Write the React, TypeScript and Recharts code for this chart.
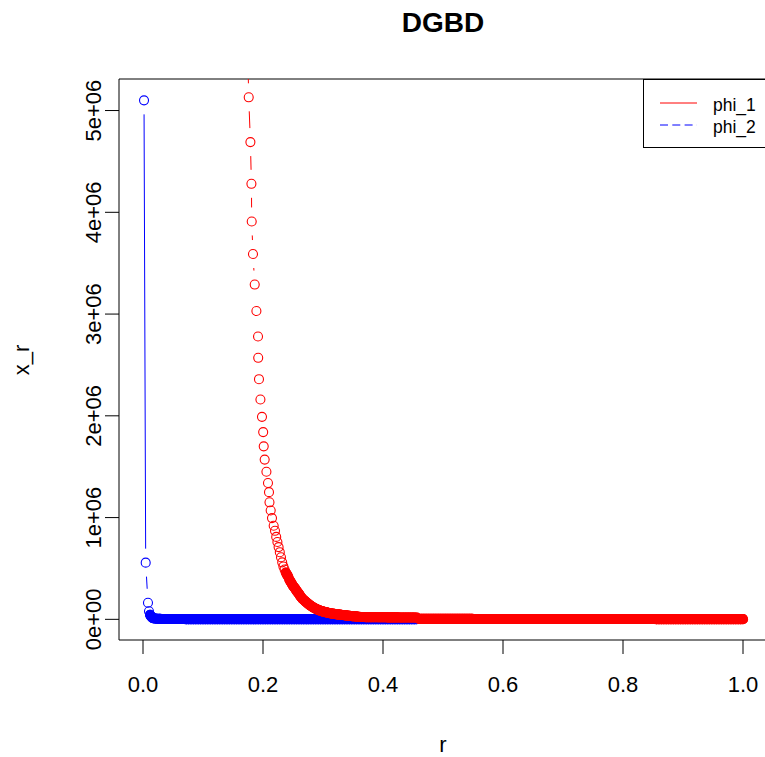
import React from "react"
import { ComposedChart, Line, XAxis, YAxis, ReferenceArea } from "recharts"

// values are in millions (y axis shows e+06 labels)
const xTicks = [0, 0.2, 0.4, 0.6, 0.8, 1.0]
const yTicks = [0, 1, 2, 3, 4, 5]

const blueHeadR = [0.0017, 0.0045, 0.0083, 0.01, 0.0117, 0.0133, 0.015, 0.0167]
const blueHeadV = [5.1, 0.557, 0.163, 0.08, 0.045, 0.03, 0.02, 0.012]

const blueTailR = [
  0.02, 0.024, 0.028, 0.032, 0.036, 0.04, 0.044, 0.048, 0.052, 0.056,
  0.06, 0.064, 0.068, 0.072, 0.076, 0.08, 0.084, 0.088, 0.092, 0.096,
  0.1, 0.104, 0.108, 0.112, 0.116, 0.12, 0.124, 0.128, 0.132, 0.136,
  0.14, 0.144, 0.148, 0.152, 0.156, 0.16, 0.164, 0.168, 0.172, 0.176,
  0.18, 0.184, 0.188, 0.192, 0.196, 0.2, 0.204, 0.208, 0.212, 0.216,
  0.22, 0.224, 0.228, 0.232, 0.236, 0.24, 0.244, 0.248, 0.252, 0.256,
  0.26, 0.264, 0.268, 0.272, 0.276, 0.28, 0.284, 0.288, 0.292, 0.296,
  0.3, 0.304, 0.308, 0.312, 0.316, 0.32, 0.324, 0.328, 0.332, 0.336,
  0.34, 0.344, 0.348, 0.352, 0.356, 0.36, 0.364, 0.368, 0.372, 0.376,
  0.38, 0.384, 0.388, 0.392, 0.396, 0.4, 0.404, 0.408, 0.412, 0.416,
  0.42, 0.424, 0.428, 0.432, 0.436, 0.44, 0.444, 0.448, 0.452, 0.456,
]
const blueTailV = [
  0.008, 0.006, 0.005, 0.004, 0.004, 0.003, 0.003, 0.003, 0.003, 0.003,
  0.003, 0.003, 0.003, 0.002, 0.002, 0.002, 0.002, 0.002, 0.002, 0.002,
  0.002, 0.002, 0.002, 0.002, 0.002, 0.002, 0.002, 0.002, 0.002, 0.002,
  0.002, 0.002, 0.002, 0.002, 0.002, 0.002, 0.002, 0.002, 0.002, 0.002,
  0.002, 0.002, 0.002, 0.002, 0.002, 0.002, 0.002, 0.002, 0.002, 0.002,
  0.002, 0.002, 0.002, 0.002, 0.002, 0.002, 0.002, 0.002, 0.002, 0.002,
  0.002, 0.002, 0.002, 0.001, 0.001, 0.001, 0.001, 0.001, 0.001, 0.001,
  0.001, 0.001, 0.001, 0.001, 0.001, 0.001, 0.001, 0.001, 0.001, 0.001,
  0.001, 0.001, 0.001, 0.001, 0.001, 0.001, 0.001, 0.001, 0.001, 0.001,
  0.001, 0.001, 0.001, 0.001, 0.001, 0.001, 0.001, 0.001, 0.001, 0.001,
  0.001, 0.001, 0.001, 0.001, 0.001, 0.001, 0.001, 0.001, 0.001, 0.001,
]

const redHeadR = [
  0.1745, 0.1762, 0.179, 0.1807, 0.1812, 0.1833, 0.1862, 0.189, 0.1917, 0.192, 0.1933, 0.1957,
  0.1983, 0.2003, 0.2012, 0.2028, 0.2057, 0.2083, 0.21, 0.2108, 0.2128, 0.215, 0.2178,
]
const redHeadV = [
  5.6, 5.13, 4.69, 4.28, 3.91, 3.59, 3.29, 3.03, 2.78, 2.57, 2.36, 2.16, 1.99, 1.84, 1.7, 1.57, 1.45,
  1.34, 1.25, 1.15, 1.07, 0.995, 0.92,
]

const redMidR = [
  0.22, 0.222, 0.224, 0.226, 0.228, 0.23, 0.232, 0.234, 0.236, 0.238,
  0.24, 0.242, 0.244, 0.246, 0.248, 0.25, 0.252, 0.254, 0.256, 0.258,
  0.26, 0.262, 0.264, 0.266, 0.268, 0.27, 0.272, 0.274, 0.276, 0.278,
  0.28, 0.282, 0.284, 0.286, 0.288, 0.29, 0.292, 0.294, 0.296, 0.298,
  0.3, 0.302, 0.304, 0.306, 0.308, 0.31, 0.312, 0.314, 0.316, 0.318,
  0.32, 0.322, 0.324, 0.326, 0.328, 0.33, 0.332, 0.334, 0.336, 0.338,
  0.34, 0.342, 0.344, 0.346, 0.348, 0.35, 0.352, 0.354, 0.356, 0.358,
]
const redMidV = [
  0.87, 0.81, 0.76, 0.71, 0.66, 0.61, 0.56, 0.52, 0.49, 0.46,
  0.44, 0.42, 0.39, 0.37, 0.35, 0.33, 0.315, 0.3, 0.28, 0.265,
  0.25, 0.23, 0.215, 0.2, 0.19, 0.18, 0.17, 0.16, 0.15, 0.14,
  0.132, 0.124, 0.117, 0.11, 0.104, 0.098, 0.093, 0.088, 0.084, 0.08,
  0.077, 0.074, 0.071, 0.068, 0.065, 0.062, 0.06, 0.058, 0.056, 0.054,
  0.052, 0.05, 0.049, 0.048, 0.046, 0.045, 0.043, 0.042, 0.04, 0.039,
  0.037, 0.036, 0.035, 0.033, 0.032, 0.031, 0.03, 0.029, 0.027, 0.026,
]

const redTailR = [
  0.36, 0.364, 0.368, 0.372, 0.376, 0.38, 0.384, 0.388, 0.392, 0.396,
  0.4, 0.404, 0.408, 0.412, 0.416, 0.42, 0.424, 0.428, 0.432, 0.436,
  0.44, 0.444, 0.448, 0.452, 0.456, 0.46, 0.464, 0.468, 0.472, 0.476,
  0.48, 0.484, 0.488, 0.492, 0.496, 0.5, 0.504, 0.508, 0.512, 0.516,
  0.52, 0.524, 0.528, 0.532, 0.536, 0.54, 0.544, 0.548, 0.552, 0.556,
  0.56, 0.564, 0.568, 0.572, 0.576, 0.58, 0.584, 0.588, 0.592, 0.596,
  0.6, 0.604, 0.608, 0.612, 0.616, 0.62, 0.624, 0.628, 0.632, 0.636,
  0.64, 0.644, 0.648, 0.652, 0.656, 0.66, 0.664, 0.668, 0.672, 0.676,
  0.68, 0.684, 0.688, 0.692, 0.696, 0.7, 0.704, 0.708, 0.712, 0.716,
  0.72, 0.724, 0.728, 0.732, 0.736, 0.74, 0.744, 0.748, 0.752, 0.756,
  0.76, 0.764, 0.768, 0.772, 0.776, 0.78, 0.784, 0.788, 0.792, 0.796,
  0.8, 0.804, 0.808, 0.812, 0.816, 0.82, 0.824, 0.828, 0.832, 0.836,
  0.84, 0.844, 0.848, 0.852, 0.856, 0.86, 0.864, 0.868, 0.872, 0.876,
  0.88, 0.884, 0.888, 0.892, 0.896, 0.9, 0.904, 0.908, 0.912, 0.916,
  0.92, 0.924, 0.928, 0.932, 0.936, 0.94, 0.944, 0.948, 0.952, 0.956,
  0.96, 0.964, 0.968, 0.972, 0.976, 0.98, 0.984, 0.988, 0.992, 0.996,
  1.0,
]
const redTailV = [
  0.024, 0.023, 0.023, 0.022, 0.022, 0.021, 0.021, 0.021, 0.02, 0.02,
  0.02, 0.02, 0.019, 0.019, 0.019, 0.019, 0.019, 0.018, 0.018, 0.018,
  0.018, 0.018, 0.018, 0.018, 0.018, 0.005, 0.005, 0.005, 0.005, 0.005,
  0.005, 0.005, 0.005, 0.005, 0.005, 0.005, 0.005, 0.005, 0.005, 0.005,
  0.005, 0.005, 0.005, 0.005, 0.005, 0.005, 0.005, 0.005, 0.004, 0.004,
  0.004, 0.004, 0.004, 0.004, 0.004, 0.004, 0.004, 0.004, 0.004, 0.004,
  0.004, 0.004, 0.004, 0.004, 0.004, 0.004, 0.004, 0.004, 0.004, 0.004,
  0.004, 0.004, 0.004, 0.004, 0.004, 0.004, 0.004, 0.004, 0.004, 0.004,
  0.004, 0.004, 0.004, 0.004, 0.004, 0.004, 0.003, 0.003, 0.003, 0.003,
  0.003, 0.003, 0.003, 0.003, 0.003, 0.003, 0.003, 0.003, 0.003, 0.003,
  0.003, 0.003, 0.003, 0.003, 0.003, 0.003, 0.003, 0.003, 0.003, 0.003,
  0.003, 0.003, 0.003, 0.003, 0.003, 0.003, 0.003, 0.003, 0.003, 0.003,
  0.003, 0.003, 0.003, 0.003, 0.002, 0.002, 0.002, 0.002, 0.002, 0.002,
  0.002, 0.002, 0.002, 0.002, 0.002, 0.002, 0.002, 0.002, 0.002, 0.002,
  0.002, 0.002, 0.002, 0.002, 0.002, 0.002, 0.002, 0.002, 0.002, 0.002,
  0.002, 0.002, 0.002, 0.002, 0.002, 0.002, 0.002, 0.002, 0.002, 0.002,
  0.002,
]

const zip = (rs: number[], vs: number[]) => rs.map((r, i) => ({ r, v: vs[i] }))

const blueData = [...zip(blueHeadR, blueHeadV), ...zip(blueTailR, blueTailV)]
const redData = [...zip(redHeadR, redHeadV), ...zip(redMidR, redMidV), ...zip(redTailR, redTailV)]

const FONT = "'Liberation Sans', Arial, sans-serif"
const X_DOMAIN: [number, number] = [-0.04, 1.04]
const Y_DOMAIN: [number, number] = [-0.203, 5.31]
const GAP = 14 // like R type="b": segments stop short of each point
const DOT_R = 4.5

// hollow circle + gapped segment back to the previous point.
// where points crowd together the rings overplot into a solid band, so fill that in.
const makeDot = (color: string) => (props: any) => {
  const { cx, cy, index, points } = props
  let seg = null
  if (index > 0 && points && points[index - 1]) {
    const p = points[index - 1]
    const dx = cx - p.x
    const dy = cy - p.y
    const len = Math.hypot(dx, dy)
    if (len > 2 * GAP) {
      const ux = dx / len
      const uy = dy / len
      seg = (
        <line
          x1={p.x + ux * GAP}
          y1={p.y + uy * GAP}
          x2={cx - ux * GAP}
          y2={cy - uy * GAP}
          stroke={color}
          strokeWidth={1}
        />
      )
    } else if (len < 2.5) {
      seg = (
        <line
          x1={p.x}
          y1={p.y}
          x2={cx}
          y2={cy}
          stroke={color}
          strokeWidth={DOT_R * 2 + 1.1}
          strokeLinecap="round"
        />
      )
    }
  }
  return (
    <g key={`dot-${index}`}>
      {seg}
      <circle cx={cx} cy={cy} r={DOT_R} fill="none" stroke={color} strokeWidth={1.1} />
    </g>
  )
}

const YTick = (props: any) => {
  const { y, payload } = props
  const v = payload.value
  const label = v === 0 ? "0e+00" : `${v}e+06`
  return (
    <text
      x={101}
      y={y}
      transform={`rotate(-90, 101, ${y})`}
      textAnchor="middle"
      fontSize={22}
      fontFamily={FONT}
      fill="#000"
    >
      {label}
    </text>
  )
}

export default function App() {
  return (
    <div
      style={{
        position: "absolute",
        left: 0,
        top: 0,
        width: 765,
        height: 757,
        overflow: "hidden",
        background: "#fff",
        fontFamily: FONT,
      }}
    >
      <ComposedChart width={800} height={757} margin={{ top: 79, right: 33, bottom: 57, left: 59 }}>
        <XAxis
          type="number"
          dataKey="r"
          domain={X_DOMAIN}
          ticks={xTicks}
          allowDataOverflow
          axisLine={false}
          tickSize={14}
          tickMargin={22}
          height={60}
          tickLine={{ stroke: "#000" }}
          tick={{ fill: "#000", fontSize: 22, fontFamily: FONT }}
          tickFormatter={(v: number) => v.toFixed(1)}
        />
        <YAxis
          type="number"
          dataKey="v"
          domain={Y_DOMAIN}
          ticks={yTicks}
          allowDataOverflow
          axisLine={false}
          tickSize={14}
          width={60}
          tickLine={{ stroke: "#000" }}
          tick={<YTick />}
        />
        <ReferenceArea
          x1={X_DOMAIN[0]}
          x2={X_DOMAIN[1]}
          y1={Y_DOMAIN[0]}
          y2={Y_DOMAIN[1]}
          fill="none"
          stroke="#000"
          strokeWidth={1}
          ifOverflow="visible"
        />
        <Line
          data={blueData}
          dataKey="v"
          type="linear"
          stroke="none"
          dot={makeDot("#0000ff")}
          activeDot={false}
          isAnimationActive={false}
        />
        <Line
          data={redData}
          dataKey="v"
          type="linear"
          stroke="none"
          dot={makeDot("#ff0000")}
          activeDot={false}
          isAnimationActive={false}
        />
      </ComposedChart>
      <svg
        width={765}
        height={757}
        style={{ position: "absolute", left: 0, top: 0, pointerEvents: "none" }}
      >
        <text x={443} y={32} textAnchor="middle" fontSize={28} fontWeight="bold" fontFamily={FONT}>
          DGBD
        </text>
        <text x={443} y={752} textAnchor="middle" fontSize={22} fontFamily={FONT}>
          r
        </text>
        <text
          x={29}
          y={360}
          transform="rotate(-90, 29, 360)"
          textAnchor="middle"
          fontSize={22}
          fontFamily={FONT}
        >
          x_r
        </text>
        <rect x={643.5} y={79.5} width={140} height={68} fill="#fff" stroke="#000" strokeWidth={1} />
        <line x1={660} y1={103} x2={697} y2={103} stroke="#ff0000" strokeWidth={1} />
        <line
          x1={660}
          y1={125}
          x2={697}
          y2={125}
          stroke="#0000ff"
          strokeWidth={1}
          strokeDasharray="8 4.3"
        />
        <text x={713} y={111} fontSize={17.5} fontFamily={FONT}>
          phi_1
        </text>
        <text x={713} y={133} fontSize={17.5} fontFamily={FONT}>
          phi_2
        </text>
      </svg>
    </div>
  )
}
